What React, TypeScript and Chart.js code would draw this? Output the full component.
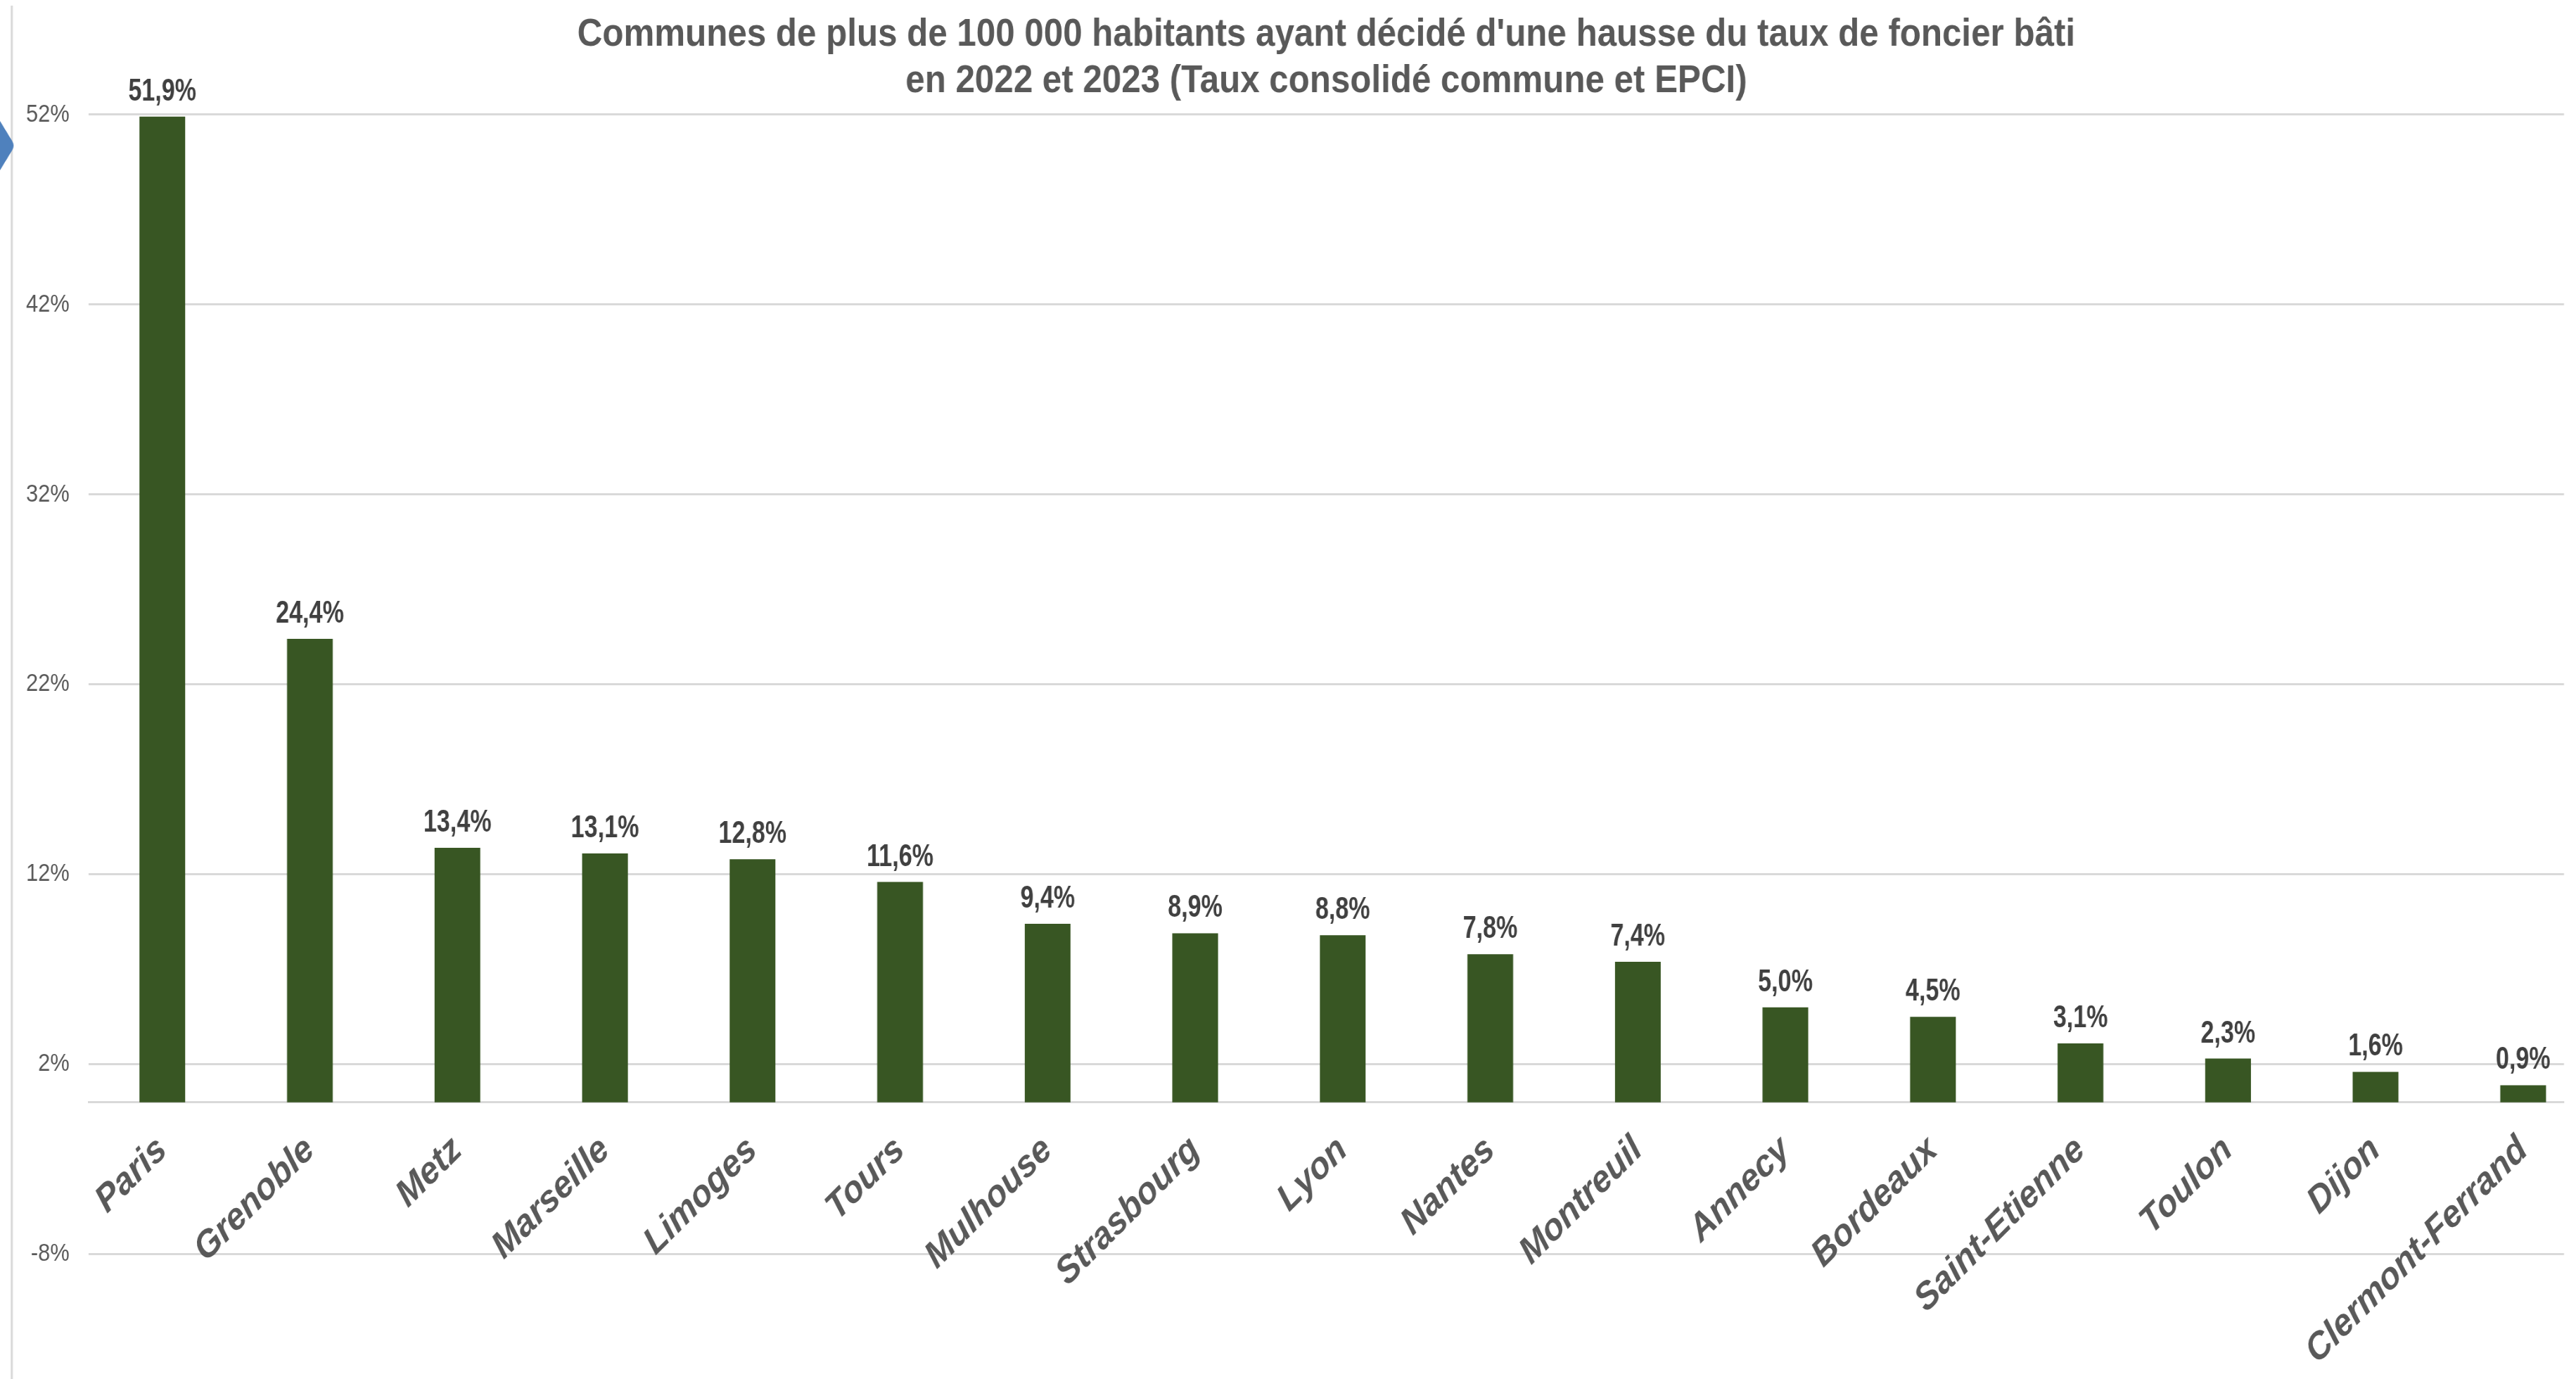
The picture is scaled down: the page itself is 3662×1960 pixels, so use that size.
import React, { useEffect, useRef } from 'react';
import { Chart, registerables } from 'chart.js';

Chart.register(...registerables);

const titleLines = [
  "Communes de plus de 100 000 habitants ayant décidé d'une hausse du taux de foncier bâti",
  'en 2022 et 2023 (Taux consolidé commune et EPCI)',
];

const categories = [
  'Paris', 'Grenoble', 'Metz', 'Marseille', 'Limoges', 'Tours', 'Mulhouse', 'Strasbourg',
  'Lyon', 'Nantes', 'Montreuil', 'Annecy', 'Bordeaux', 'Saint-Etienne', 'Toulon', 'Dijon',
  'Clermont-Ferrand',
];

const values = [51.9, 24.4, 13.4, 13.1, 12.8, 11.6, 9.4, 8.9, 8.8, 7.8, 7.4, 5.0, 4.5, 3.1, 2.3, 1.6, 0.9];

const yTicks = [52, 42, 32, 22, 12, 2, -8];

const Y_MIN = -14.57;
const Y_MAX = 52;
const X_MIN = -0.5;
const X_MAX = 16.277;

// The reference picture is horizontally compressed; draw on a wider canvas and show it squeezed.
const PAGE_W = 3662;
const PAGE_H = 1960;
const CANVAS_W = 4160;
const SQUEEZE = PAGE_W / CANVAS_W;
// label angle that appears as 45 degrees once squeezed
const LABEL_ROT = (Math.atan(SQUEEZE) * 180) / Math.PI;

const SANS = '"Liberation Sans", Arial, sans-serif';

const fmt = (v: number) => v.toFixed(1).replace('.', ',') + '%';

const framePlugin = {
  id: 'frame',
  beforeDraw(chart: any) {
    const ctx = chart.ctx;
    ctx.save();
    ctx.fillStyle = '#ffffff';
    ctx.fillRect(0, 0, chart.width, chart.height);
    ctx.strokeStyle = '#d9d9d9';
    ctx.lineWidth = 3.4;
    ctx.beginPath();
    ctx.moveTo(19, 8);
    ctx.lineTo(19, chart.height);
    ctx.stroke();
    ctx.fillStyle = '#4f81bd';
    ctx.beginPath();
    ctx.moveTo(0, 172);
    ctx.lineTo(20, 201);
    ctx.quadraticCurveTo(24, 207, 20, 213);
    ctx.lineTo(0, 242);
    ctx.closePath();
    ctx.fill();
    ctx.restore();
  },
};

const valueLabelPlugin = {
  id: 'valueLabels',
  afterDatasetsDraw(chart: any) {
    const ctx = chart.ctx;
    const meta = chart.getDatasetMeta(0);
    meta.data.forEach((el: any, i: number) => {
      ctx.save();
      ctx.font = `bold 44px ${SANS}`;
      ctx.fillStyle = '#404040';
      ctx.textAlign = 'center';
      ctx.textBaseline = 'alphabetic';
      ctx.translate(el.x, el.y - 23);
      ctx.scale(0.88, 1);
      ctx.fillText(fmt(values[i]), 0, 0);
      ctx.restore();
    });
  },
};

export default function App() {
  const canvasRef = useRef<HTMLCanvasElement | null>(null);

  useEffect(() => {
    const canvas = canvasRef.current;
    if (!canvas) return;
    const chart = new Chart(canvas, {
      type: 'bar',
      data: {
        datasets: [
          {
            data: values.map((v, i) => ({ x: i, y: v })),
            backgroundColor: '#385623',
            borderWidth: 0,
            barPercentage: 0.31,
            categoryPercentage: 1,
          } as any,
        ],
      },
      options: {
        responsive: false,
        animation: false,
        devicePixelRatio: 1,
        layout: { padding: { left: 19, right: 19.4, top: 0, bottom: 0 } },
        plugins: {
          legend: { display: false },
          tooltip: { enabled: false },
          title: {
            display: true,
            text: titleLines,
            fullSize: false,
            color: '#595959',
            font: { family: SANS, size: 56, weight: 'bold', lineHeight: 1.18 },
            padding: { top: 16.6, bottom: 14.2 },
          },
        },
        scales: {
          x: {
            type: 'linear',
            offset: false,
            position: { y: 0 } as any,
            min: X_MIN,
            max: X_MAX,
            grid: { display: false, drawTicks: false },
            border: { display: true, color: '#d9d9d9', width: 3 },
            afterBuildTicks: (scale: any) => {
              scale.ticks = categories.map((_, i) => ({ value: i }));
            },
            afterFit: (scale: any) => {
              scale.paddingLeft = 0;
              scale.paddingRight = 0;
              scale.paddingTop = 0;
              scale.paddingBottom = 0;
            },
            ticks: {
              autoSkip: false,
              minRotation: LABEL_ROT,
              maxRotation: LABEL_ROT,
              padding: 36,
              color: '#595959',
              font: { family: SANS, size: 54, weight: 'bold', style: 'italic' },
              callback: (v: any) => categories[v as number] ?? '',
            },
          },
          y: {
            min: Y_MIN,
            max: Y_MAX,
            afterBuildTicks: (scale: any) => {
              scale.ticks = yTicks.map((v) => ({ value: v }));
            },
            afterFit: (scale: any) => {
              scale.width = 124;
              scale.paddingTop = 0;
              scale.paddingBottom = 0;
            },
            grid: { color: '#d9d9d9', lineWidth: 3, drawTicks: false },
            border: { display: false },
            ticks: {
              padding: 31,
              color: '#595959',
              font: { family: SANS, size: 35 },
              callback: (v: any) => `${v}%`,
            },
          },
        },
      } as any,
      plugins: [framePlugin, valueLabelPlugin],
    });
    return () => chart.destroy();
  }, []);

  return (
    <div
      style={{
        position: 'fixed',
        left: 0,
        top: 0,
        width: PAGE_W,
        height: PAGE_H,
        overflow: 'hidden',
        background: '#ffffff',
      }}
    >
      <canvas
        ref={canvasRef}
        width={CANVAS_W}
        height={PAGE_H}
        style={{ display: 'block', width: `${PAGE_W}px`, height: `${PAGE_H}px` }}
      />
    </div>
  );
}
